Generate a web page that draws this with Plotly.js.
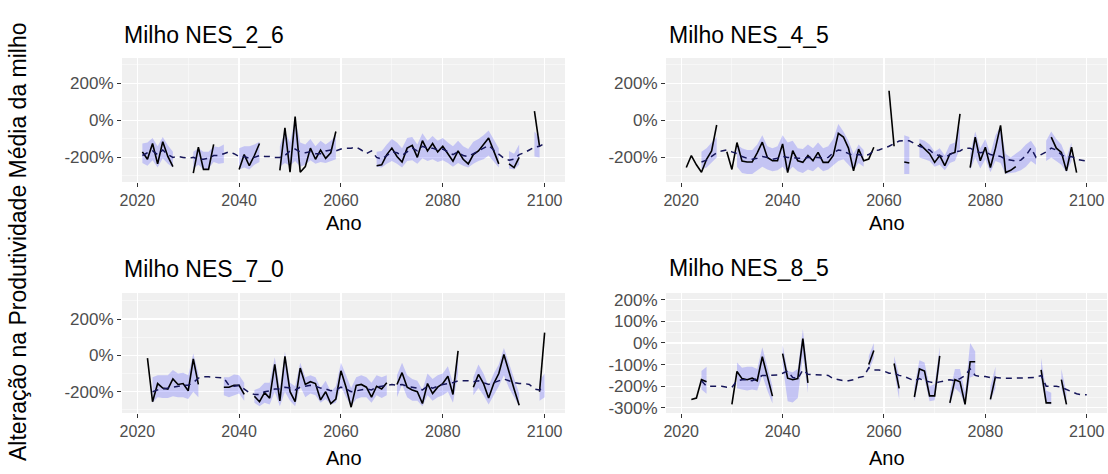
<!DOCTYPE html>
<html>
<head>
<meta charset="utf-8">
<script src="https://cdn.plot.ly/plotly-3.0.1.min.js"></script>
<style>
html,body{margin:0;padding:0;background:#fff;}
#chart{width:1108px;height:474px;}
</style>
</head>
<body>
<div id="chart"></div>
<script>
// ---------------- data ----------------
const firstYear = 2021, lastYear = 2100;
const years = [];
for (let y = firstYear; y <= lastYear; y++) years.push(y);

const panelTitles = ['Milho NES_2_6', 'Milho NES_4_5', 'Milho NES_7_0', 'Milho NES_8_5'];
const xAxisTitle = 'Ano';
const yAxisTitle = 'Alteração na Produtividade Média da milho';
const xTickVals = [2020, 2040, 2060, 2080, 2100];
const xMinorVals = [2030, 2050, 2070, 2090];
const yTickVals = [-200, 0, 200];
const yTickText = ['-200%', '0%', '200%'];
const yMinorVals = [-300, -100, 100, 300];
const yTickVals85 = [-300, -200, -100, 0, 100, 200];
const yTickText85 = ['-300%', '-200%', '-100%', '0%', '100%', '200%'];
const yMinorVals85 = [-250, -150, -50, 50, 150];

// yearly values (black solid line), 2021..2100
const black_2_6 = [
-170,-210,-125,-235,-115,-195,-250,null,null,null,
-285,-145,-265,-265,-130,null,null,null,null,-265,
-185,-245,-190,-125,null,null,null,-270,-40,-280,
20,-280,-250,-150,-210,-160,-205,-175,-60,null,
null,null,null,null,null,null,-245,-240,-185,-150,
-195,-225,-150,-135,-200,-110,-165,-125,-170,-140,
-180,-220,-165,-210,-235,-185,-165,-130,-95,-165,
-235,null,-235,-255,-200,null,null,50,-140,null];
const mean_2_6 = [
-190,-175,-165,-185,-160,-185,-200,-195,-200,-205,
-200,-210,-210,-205,-190,-190,-180,-170,-180,-195,
-195,-205,-200,-190,-195,-195,-200,-200,-190,-165,
-155,-170,-175,-170,-180,-180,-165,-160,-165,-155,
-150,-150,-145,-160,-180,-165,-200,-210,-190,-170,
-175,-190,-170,-150,-165,-140,-150,-150,-160,-155,
-170,-185,-170,-190,-195,-180,-165,-150,-135,-160,
-185,-205,-215,-210,-185,-175,-160,-145,-140,-125];
const lo_2_6 = [
-230,-245,-215,-255,-205,-235,-255,null,null,null,
-260,-240,-265,-260,-225,-235,-230,null,null,-265,
-255,-265,-240,-225,null,null,null,-250,-230,-245,
-220,-250,-240,-215,-235,-225,-230,-220,-210,null,
null,null,null,null,null,null,-250,-255,-235,-220,
-235,-255,-220,-215,-235,-205,-220,-210,-225,-215,
-230,-250,-230,-245,-255,-235,-220,-210,-190,-220,
-255,null,-260,-265,-240,null,null,-195,-200,null];
const hi_2_6 = [
-125,-120,-95,-140,-90,-135,-170,null,null,null,
-170,-150,-170,-170,-140,-145,-130,null,null,-150,
-140,-140,-130,-115,null,null,null,-140,-60,-120,
10,-120,-130,-100,-140,-110,-130,-110,-80,null,
null,null,null,null,null,null,-170,-165,-130,-100,
-120,-150,-95,-90,-130,-70,-110,-85,-110,-95,
-120,-140,-110,-140,-155,-115,-100,-80,-55,-100,
-150,null,-165,-180,-130,null,null,-60,-90,null];

const black_4_5 = [
-255,-190,-240,-280,-210,-165,-25,null,-170,-265,
-120,-220,-225,-225,-175,-118,-200,-218,-218,-127,
-282,-164,-218,-227,-190,-218,-173,-227,-227,-190,
-70,-90,-150,-273,-155,-218,-209,-145,null,null,
160,-140,null,-225,-230,null,-127,-155,-180,-227,
-190,-245,-182,-173,35,null,-255,-91,-218,-145,
-255,-150,-27,-282,-270,-250,null,null,null,null,
null,null,-91,-150,-173,-273,-145,-282,null,null];
const mean_4_5 = [
null,null,null,-225,-215,-195,-175,-165,-160,-170,
-180,-195,-205,-210,-205,-195,-200,-210,-205,-195,
-200,-200,-205,-205,-200,-200,-200,-205,-200,-175,
-160,-165,-180,-190,-185,-190,-185,-165,-160,-150,
-140,-125,-112,-110,-110,-125,-140,-150,-160,-185,
-190,-200,-185,-170,-165,-150,-150,-165,-175,-170,
-185,-190,-195,-210,-215,-220,-215,-190,-150,-200,
-185,-170,-150,-160,-185,-200,-195,-210,-215,-220];
const lo_4_5 = [
null,null,null,-265,-255,-230,-200,null,null,null,
-250,-285,-290,-290,-270,-250,-265,-275,-270,-250,
-280,-250,-275,-285,-265,-275,-250,-275,-265,-240,
-220,-210,-240,-270,-230,-250,null,null,null,null,
null,null,null,-290,-290,null,-200,-210,-220,-250,
-240,-270,-230,-220,-150,null,-270,-200,-260,-210,
-280,-220,-230,-290,-285,-280,-270,-250,-220,-240,
null,-220,-200,-220,-240,-280,-220,null,null,null];
const hi_4_5 = [
null,null,null,-170,-150,-120,-90,null,null,null,
-130,-150,-160,-160,-130,-80,-140,-150,-140,-80,
-120,-110,-150,-155,-130,-150,-120,-150,-140,-100,
-20,-60,-110,-180,-130,-160,null,null,null,null,
null,null,null,-80,-90,null,-100,-110,-130,-170,
-150,-190,-130,-120,-30,null,-180,-60,-150,-100,
-180,-80,-30,-180,-200,-180,-160,-130,-110,-150,
null,-110,-60,-100,-130,-200,-120,null,null,null];

const black_7_0 = [
null,-15,-255,-155,-180,-185,-130,-160,-155,-195,
-20,-160,null,null,null,null,-175,-175,-165,-165,
-215,null,-225,-255,-205,-235,-50,-250,-5,-200,
-255,-70,-160,-145,-155,-245,-200,-265,-240,-85,
-175,-285,-165,-160,-175,-230,-170,-185,-150,null,
-160,-95,-175,-190,-200,-265,-155,-210,-175,-155,
-115,-215,25,null,null,-175,-105,-155,-235,-155,
-100,5,-97,-185,-275,null,null,null,-200,125];
const mean_7_0 = [
null,null,-200,-190,-185,-180,-175,-170,-165,-165,
-150,-125,-118,-118,-120,-122,-125,-165,-170,-165,
-185,-205,-215,-215,-200,-195,-185,-185,-175,-180,
-190,-175,-170,-165,-170,-180,-185,-195,-190,-175,
-185,-200,-195,-190,-185,-190,-175,-170,-165,-160,
-165,-160,-170,-175,-180,-190,-170,-180,-170,-160,
-155,-150,-140,-140,-140,-145,-140,-150,-160,-150,
-140,-130,-140,-150,-155,-155,-160,-185,-190,-170];
const lo_7_0 = [
null,null,-260,-230,-235,-235,-225,-230,-230,-240,
-200,-230,null,null,null,null,-220,-230,-220,-210,
-250,null,-260,-280,-260,-270,-200,-280,-200,-250,
-280,-170,-230,-210,-220,-260,-240,-270,-260,-170,
-230,-280,-240,-230,-230,-260,-220,-235,-220,null,
-230,-160,-230,-250,-250,-280,-220,-250,-230,-220,
-200,-260,-100,null,null,-220,-180,-220,-270,-220,
-170,-110,-180,-230,-280,null,null,null,-250,-230];
const hi_7_0 = [
null,null,-120,-110,-110,-110,-80,-100,-95,-110,
10,-100,null,null,null,null,-120,-120,-105,-110,
-150,null,-190,-180,-150,-150,-10,-180,20,-150,
-170,-40,-120,-110,-120,-180,-140,-200,-170,-40,
-110,-180,-120,-110,-120,-150,-110,-120,-110,null,
-110,-40,-110,-130,-140,-190,-100,-130,-110,-100,
-60,-150,20,null,null,-120,-50,-100,-170,-100,
-50,40,-40,-130,-210,null,null,null,-140,-100];

const black_8_5 = [
null,-262,-255,-170,-180,null,null,null,null,-284,
-132,-165,-170,-163,-175,-64,-150,-246,null,-49,
-163,-170,-165,20,-185,null,null,null,null,null,
null,null,null,null,null,null,-100,-35,null,null,
null,-95,-210,null,null,-250,-120,-130,-245,-245,
-60,null,-277,-170,-180,-284,-87,-87,null,null,
-261,-155,null,null,null,null,null,null,null,null,
-125,-277,-277,null,-170,-284,null,null,null,null];
const mean_8_5 = [
null,null,null,-175,-200,-200,-200,-200,-205,-205,
-175,-170,-170,-175,-165,-150,-150,-150,-148,-140,
-130,-160,-165,-125,-145,-147,-147,-147,-150,-165,
-170,-175,-175,-170,-160,-155,-115,-125,-125,-130,
-140,-140,-150,-155,-165,-175,-165,-175,-180,-185,
-180,-175,-170,-175,-165,-150,-120,-150,-155,-155,
-160,-160,-163,-163,-163,-163,-163,-163,-160,-160,
-150,-200,-200,-200,-205,-215,-225,-235,-240,-240];
const lo_8_5 = [
null,null,null,-215,-235,null,null,null,null,null,
-210,-215,-220,-215,-220,-150,-220,-280,null,-100,
-270,-275,-255,-60,-230,null,null,null,null,null,
null,null,null,null,null,null,-130,-70,null,null,
null,-130,-260,null,null,-270,-160,-170,-270,-265,
-110,null,-290,-210,-230,-290,-160,-150,null,null,
-270,-210,null,null,null,null,null,null,null,null,
-170,-280,-285,null,-210,-290,null,null,null,null];
const hi_8_5 = [
null,null,null,-130,-110,null,null,null,null,null,
-90,-115,-110,-110,-120,-20,-110,-200,null,-10,
-130,-135,-120,65,-140,null,null,null,null,null,
null,null,null,null,null,null,-60,0,null,null,
null,-60,-150,null,null,-200,-80,-90,-200,-190,
-20,null,-230,-120,-120,-230,0,-40,null,null,
-200,-110,null,null,null,null,null,null,null,null,
-70,-220,-230,null,-120,-230,null,null,null,null];

// ---------------- drawing ----------------
const series = [
  {black: black_2_6, mean: mean_2_6, lo: lo_2_6, hi: hi_2_6},
  {black: black_4_5, mean: mean_4_5, lo: lo_4_5, hi: hi_4_5},
  {black: black_7_0, mean: mean_7_0, lo: lo_7_0, hi: hi_7_0},
  {black: black_8_5, mean: mean_8_5, lo: lo_8_5, hi: hi_8_5}
];

function ribbon(lo, hi) {
  const xs = [], ys = [];
  const n = years.length;
  let i = 0;
  while (i < n) {
    if (lo[i] == null || hi[i] == null) { i++; continue; }
    let j = i;
    while (j < n && lo[j] != null && hi[j] != null) j++;
    if (j - i >= 2) {
      for (let k = i; k < j; k++) { xs.push(years[k]); ys.push(hi[k]); }
      for (let k = j - 1; k >= i; k--) { xs.push(years[k]); ys.push(lo[k]); }
      xs.push(years[i]); ys.push(hi[i]);
      xs.push(null); ys.push(null);
    }
    i = j;
  }
  return {xs, ys};
}

const traces = [];
series.forEach((s, idx) => {
  const ax = idx === 0 ? '' : String(idx + 1);
  const r = ribbon(s.lo, s.hi);
  traces.push({
    x: r.xs, y: r.ys, xaxis: 'x' + ax, yaxis: 'y' + ax,
    type: 'scatter', mode: 'lines', fill: 'toself',
    fillcolor: 'rgba(40,40,255,0.22)', line: {width: 0, color: 'rgba(0,0,0,0)'},
    hoverinfo: 'skip', connectgaps: false
  });
  traces.push({
    x: years, y: s.black, xaxis: 'x' + ax, yaxis: 'y' + ax,
    type: 'scatter', mode: 'lines', connectgaps: false,
    line: {color: '#000000', width: 1.6}, hoverinfo: 'skip'
  });
  traces.push({
    x: years, y: s.mean, xaxis: 'x' + ax, yaxis: 'y' + ax,
    type: 'scatter', mode: 'lines', connectgaps: false,
    line: {color: '#16165a', width: 1.5, dash: '6px,5px'}, hoverinfo: 'skip'
  });
});

const W = 1108, H = 474;
const colX = [[122, 565], [666, 1107]];
const rowY = [[58, 182], [293, 413]];
const yRanges = [[-333, 337], [-333, 337], [-317, 343], [-324, 231]];

function xAxis(col, row, anchor) {
  return {
    domain: [colX[col][0] / W, colX[col][1] / W],
    range: [2017, 2104], anchor: anchor,
    tickmode: 'array', tickvals: xTickVals, ticktext: xTickVals.map(String),
    showgrid: true, gridcolor: '#ffffff', gridwidth: 1.3,
    minor: {tickmode: 'array', tickvals: xMinorVals, showgrid: true, gridcolor: '#fbfbfb', gridwidth: 0.6, ticks: ''},
    zeroline: false, showline: false,
    ticks: 'outside', ticklen: 4, tickwidth: 1, tickcolor: '#333333',
    tickfont: {size: 16, color: '#4d4d4d'}, fixedrange: true
  };
}
function yAxis(col, row, anchor, idx) {
  const is85 = idx === 3;
  return {
    domain: [1 - rowY[row][1] / H, 1 - rowY[row][0] / H],
    range: yRanges[idx], anchor: anchor,
    tickmode: 'array',
    tickvals: is85 ? yTickVals85 : yTickVals,
    ticktext: is85 ? yTickText85 : yTickText,
    showgrid: true, gridcolor: '#ffffff', gridwidth: 1.3,
    minor: {tickmode: 'array', tickvals: is85 ? yMinorVals85 : yMinorVals, showgrid: true, gridcolor: '#fbfbfb', gridwidth: 0.6, ticks: ''},
    zeroline: false, showline: false,
    ticks: 'outside', ticklen: 4, tickwidth: 1, tickcolor: '#333333',
    tickfont: {size: 17, color: '#4d4d4d'}, fixedrange: true
  };
}

const layout = {
  width: W, height: H,
  margin: {l: 0, r: 0, t: 0, b: 0, pad: 0},
  paper_bgcolor: '#ffffff', plot_bgcolor: '#f0f0f0',
  showlegend: false, hovermode: false,
  font: {family: 'Liberation Sans, Arial, sans-serif', color: '#000000'},
  xaxis: xAxis(0, 0, 'y'), yaxis: yAxis(0, 0, 'x', 0),
  xaxis2: xAxis(1, 0, 'y2'), yaxis2: yAxis(1, 0, 'x2', 1),
  xaxis3: xAxis(0, 1, 'y3'), yaxis3: yAxis(0, 1, 'x3', 2),
  xaxis4: xAxis(1, 1, 'y4'), yaxis4: yAxis(1, 1, 'x4', 3),
  annotations: []
};

const titlePos = [[122, 35], [667, 35], [122, 269], [667, 268]];
panelTitles.forEach((t, i) => {
  layout.annotations.push({
    text: t, xref: 'paper', yref: 'paper',
    x: titlePos[i][0] / W, y: 1 - titlePos[i][1] / H,
    xanchor: 'left', yanchor: 'middle', showarrow: false,
    font: {size: 23, color: '#000000'}
  });
});
const anoPos = [[343.5, 223], [886.5, 223], [343.5, 458], [886.5, 458]];
anoPos.forEach(p => {
  layout.annotations.push({
    text: xAxisTitle, xref: 'paper', yref: 'paper',
    x: p[0] / W, y: 1 - p[1] / H, xanchor: 'center', yanchor: 'middle',
    showarrow: false, font: {size: 20, color: '#000000'}
  });
});
layout.annotations.push({
  text: yAxisTitle, xref: 'paper', yref: 'paper',
  x: 18 / W, y: 1 - 242 / H, xanchor: 'center', yanchor: 'middle',
  textangle: -90, showarrow: false, font: {size: 23, color: '#000000'}
});

Plotly.newPlot('chart', traces, layout, {displayModeBar: false, staticPlot: true});
</script>
</body>
</html>
